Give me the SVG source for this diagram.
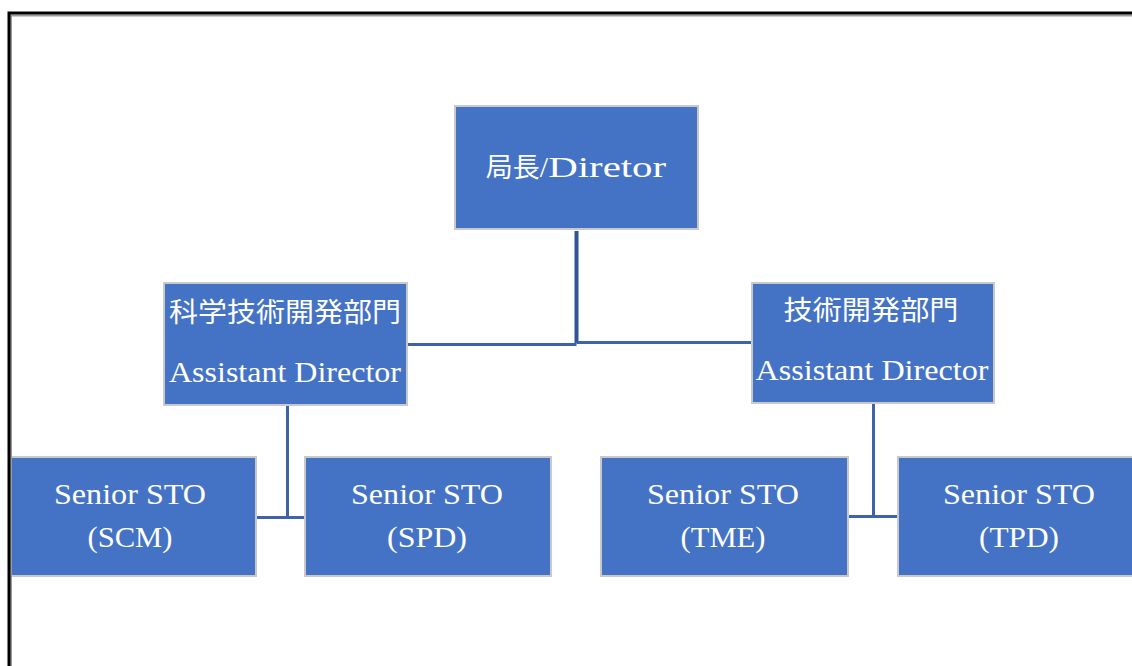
<svg xmlns="http://www.w3.org/2000/svg" width="1132" height="666" viewBox="0 0 1132 666">
<style>
.box{fill:#4472c4;stroke:#c9c9c9;stroke-width:2}
.t{fill:#ffffff;font-family:"Liberation Serif","Noto Sans CJK JP",serif;font-size:30px;text-anchor:middle}
.j{font-size:27px}
.c{fill:none;stroke:#3d64a8;stroke-width:3;stroke-linecap:square}
</style>
<rect x="0" y="0" width="1132" height="666" fill="#ffffff"/>
<g id="connectors">
<path d="M576.5 231 V343" fill="none" stroke="#2f5597" stroke-width="4"/>
<path class="c" d="M409 344.5 H575"/>
<path class="c" d="M578 342.5 H750"/>
<path class="c" d="M287.5 407 V516"/>
<path class="c" d="M257 517.5 H303"/>
<path class="c" d="M873.5 405 V515"/>
<path class="c" d="M849 516.5 H897"/>
</g>
<g id="director">
<rect class="box" x="455" y="106" width="243" height="123"/>
<text class="t" x="576" y="177"><tspan class="j">局長</tspan>/<tspan textLength="118" lengthAdjust="spacingAndGlyphs">Diretor</tspan></text>
</g>
<g id="ad-science">
<rect class="box" x="164" y="283" width="243" height="122"/>
<text class="t j" x="285" y="322" textLength="232" lengthAdjust="spacingAndGlyphs">科学技術開発部門</text>
<text class="t" x="285" y="382" textLength="232" lengthAdjust="spacingAndGlyphs">Assistant Director</text>
</g>
<g id="ad-tech">
<rect class="box" x="752" y="283" width="242" height="120"/>
<text class="t j" x="871" y="320" textLength="175" lengthAdjust="spacingAndGlyphs">技術開発部門</text>
<text class="t" x="872" y="380" textLength="233" lengthAdjust="spacingAndGlyphs">Assistant Director</text>
</g>
<g id="sto-scm">
<rect class="box" x="10" y="457" width="246" height="119"/>
<text class="t" x="130" y="504" textLength="152" lengthAdjust="spacingAndGlyphs">Senior STO</text>
<text class="t" x="130" y="547" textLength="85" lengthAdjust="spacingAndGlyphs">(SCM)</text>
</g>
<g id="sto-spd">
<rect class="box" x="305" y="457" width="246" height="119"/>
<text class="t" x="427" y="504" textLength="152" lengthAdjust="spacingAndGlyphs">Senior STO</text>
<text class="t" x="427" y="547" textLength="80" lengthAdjust="spacingAndGlyphs">(SPD)</text>
</g>
<g id="sto-tme">
<rect class="box" x="601" y="457" width="247" height="119"/>
<text class="t" x="723" y="504" textLength="152" lengthAdjust="spacingAndGlyphs">Senior STO</text>
<text class="t" x="723" y="547" textLength="85" lengthAdjust="spacingAndGlyphs">(TME)</text>
</g>
<g id="sto-tpd">
<rect class="box" x="898" y="457" width="246" height="119"/>
<text class="t" x="1019" y="504" textLength="152" lengthAdjust="spacingAndGlyphs">Senior STO</text>
<text class="t" x="1019" y="547" textLength="80" lengthAdjust="spacingAndGlyphs">(TPD)</text>
</g>
<path d="M11 666 V15.5 H1132" fill="none" stroke="#9a9a9a" stroke-width="2"/>
<path d="M9 666 V13 H1132" fill="none" stroke="#000000" stroke-width="3"/>
</svg>
